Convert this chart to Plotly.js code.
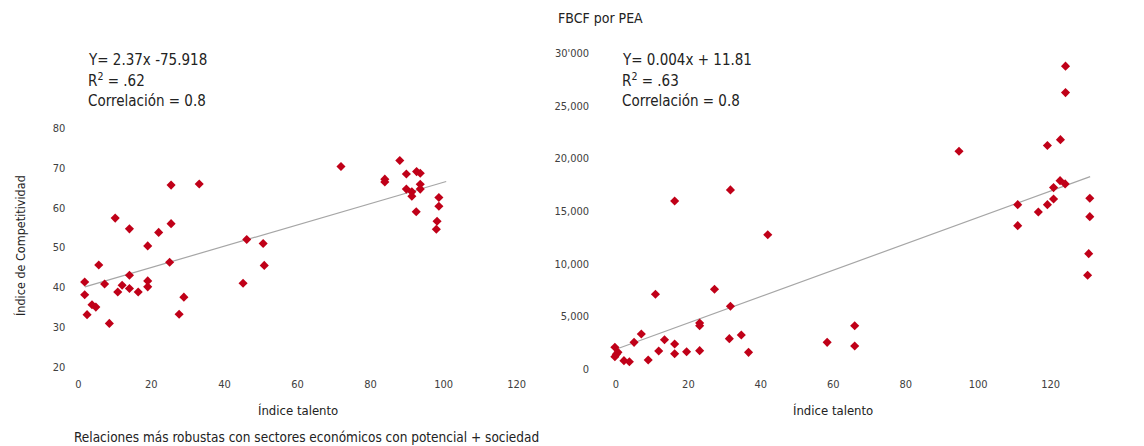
<!DOCTYPE html>
<html>
<head>
<meta charset="utf-8">
<script src="https://cdn.plot.ly/plotly-3.0.1.min.js"></script>
<style>html,body{margin:0;padding:0;background:#fff;}#chart{width:1144px;height:446px;}
.main-svg text{font-stretch:condensed;}</style>
</head>
<body>
<div id="chart"></div>
<script>
// Left chart: Índice talento vs Índice de Competitividad
const leftTalento = [1.75,1.75,2.4,3.75,4.8,5.6,7.2,8.5,10.1,10.8,12.0,14.0,14.0,14.0,16.4,19.0,19.0,19.0,22.0,25.0,25.4,25.4,27.6,28.9,33.1,45.1,46.1,50.6,50.9,
  71.9,88.0,89.8,83.9,83.9,92.6,93.6,93.6,93.6,89.8,91.3,91.3,92.5,98.7,98.7,98.2,98.0];
const leftCompet = [41.3,38.1,33.1,35.6,35.0,45.6,40.8,30.9,57.4,38.8,40.5,54.7,43.0,39.7,38.8,50.4,41.6,40.1,53.8,46.3,65.7,56.0,33.2,37.5,66.0,41.0,52.0,51.0,45.5,
  70.4,71.9,68.5,67.2,66.5,69.1,68.7,65.9,64.7,64.7,64.0,62.9,59.0,62.6,60.4,56.6,54.6];
const leftTrendX = [1.8, 100.7];
const leftTrendY = [40.1, 66.6];

// Right chart: Índice talento vs FBCF por PEA
const rightTalento = [-0.3,-0.3,0.1,0.55,2.2,3.7,5.0,7.0,8.9,10.9,11.8,13.4,16.2,16.2,16.2,19.5,23.1,23.1,23.1,27.2,31.3,31.6,31.6,34.6,36.6,41.9,58.3,
  65.9,65.9,94.7,110.9,110.9,116.6,119.1,119.1,120.8,120.8,122.6,122.7,124.0,124.1,124.1,130.8,130.8,130.5,130.2];
const rightFBCF = [2090,1200,1420,1610,820,720,2560,3350,880,7120,1740,2810,2400,1480,15980,1670,4400,4140,1770,7600,2910,5980,17030,3260,1610,12780,2560,
  4140,2210,20700,15630,13640,14940,21240,15630,16170,17250,17910,21800,17600,26270,28780,16240,14490,10980,8930];
const rightTrendX = [0, 130.9];
const rightTrendY = [1900, 18290];

const xTicks = [0,20,40,60,80,100,120];
const leftYTicks = [20,30,40,50,60,70,80];
const rightYTicks = [0,5000,10000,15000,20000,25000,30000];
const rightYTickText = ['0','5,000','10,000','15,000','20,000','25,000',"30'000"];

const FONT = 'DejaVu Sans Condensed, Liberation Sans Narrow, Arial Narrow, sans-serif';
const RED = '#C00018';
const GRAY = '#A6A6A6';

const traces = [
  {x:leftTrendX, y:leftTrendY, mode:'lines', line:{color:GRAY,width:1.2}, xaxis:'x', yaxis:'y', hoverinfo:'skip'},
  {x:leftTalento, y:leftCompet, mode:'markers', marker:{symbol:'diamond',color:RED,size:7}, xaxis:'x', yaxis:'y', cliponaxis:false},
  {x:rightTrendX, y:rightTrendY, mode:'lines', line:{color:GRAY,width:1.2}, xaxis:'x2', yaxis:'y2', hoverinfo:'skip'},
  {x:rightTalento, y:rightFBCF, mode:'markers', marker:{symbol:'diamond',color:RED,size:7}, xaxis:'x2', yaxis:'y2', cliponaxis:false}
];

const tickFont = {family:FONT, size:11, color:'#404040'};
const txtFont = {family:FONT, size:15, color:'#222'};

const layout = {
  width:1144, height:446,
  margin:{l:0,r:0,t:0,b:0},
  paper_bgcolor:'#fff', plot_bgcolor:'rgba(0,0,0,0)',
  showlegend:false,
  font:{family:FONT},
  xaxis:{domain:[78.3/1144, 516.7/1144], range:[0,120], tickvals:xTicks, showgrid:false, zeroline:false, showline:false,
    tickfont:tickFont, ticklabelstandoff:9, anchor:'y'},
  yaxis:{domain:[1-366.7/446, 1-128.3/446], range:[20,80], tickvals:leftYTicks, showgrid:false, zeroline:false, showline:false,
    tickfont:tickFont, ticklabelstandoff:12, anchor:'x'},
  xaxis2:{domain:[605.1/1144, 1105/1144], range:[-3,135], tickvals:xTicks, showgrid:false, zeroline:false, showline:false,
    tickfont:tickFont, ticklabelstandoff:7, anchor:'y2'},
  yaxis2:{domain:[1-369.3/446, 1-53.3/446], range:[0,30000], tickvals:rightYTicks, ticktext:rightYTickText, showgrid:false, zeroline:false, showline:false,
    tickfont:tickFont, ticklabelstandoff:15, anchor:'x2'},
  annotations:[
    {xref:'paper',yref:'paper',x:86/1144,y:1-60/446,xanchor:'left',yanchor:'middle',showarrow:false,text:'Y= 2.37x -75.918',font:txtFont},
    {xref:'paper',yref:'paper',x:86/1144,y:1-80/446,xanchor:'left',yanchor:'middle',showarrow:false,text:'R<sup>2</sup> = .62',font:txtFont},
    {xref:'paper',yref:'paper',x:86/1144,y:1-101/446,xanchor:'left',yanchor:'middle',showarrow:false,text:'Correlación = 0.8',font:txtFont},
    {xref:'paper',yref:'paper',x:620/1144,y:1-60/446,xanchor:'left',yanchor:'middle',showarrow:false,text:'Y= 0.004x + 11.81',font:txtFont},
    {xref:'paper',yref:'paper',x:620/1144,y:1-80/446,xanchor:'left',yanchor:'middle',showarrow:false,text:'R<sup>2</sup> = .63',font:txtFont},
    {xref:'paper',yref:'paper',x:620/1144,y:1-101/446,xanchor:'left',yanchor:'middle',showarrow:false,text:'Correlación = 0.8',font:txtFont},
    {xref:'paper',yref:'paper',x:556/1144,y:1-18/446,xanchor:'left',yanchor:'middle',showarrow:false,text:'FBCF por PEA',font:{family:FONT,size:14,color:'#222'}},
    {xref:'paper',yref:'paper',x:298/1144,y:1-410/446,xanchor:'center',yanchor:'middle',showarrow:false,text:'Índice talento',font:{family:FONT,size:13,color:'#222'}},
    {xref:'paper',yref:'paper',x:833/1144,y:1-410/446,xanchor:'center',yanchor:'middle',showarrow:false,text:'Índice talento',font:{family:FONT,size:13,color:'#222'}},
    {xref:'paper',yref:'paper',x:20/1144,y:1-246/446,xanchor:'center',yanchor:'middle',showarrow:false,textangle:-90,text:'Índice de Competitividad',font:{family:FONT,size:12.5,color:'#222'}},
    {xref:'paper',yref:'paper',x:72/1144,y:1-437/446,xanchor:'left',yanchor:'middle',showarrow:false,text:'Relaciones más robustas con sectores económicos con potencial + sociedad',font:{family:FONT,size:13.5,color:'#222'}}
  ]
};

Plotly.newPlot('chart', traces, layout, {displayModeBar:false, staticPlot:true});
</script>
</body>
</html>
